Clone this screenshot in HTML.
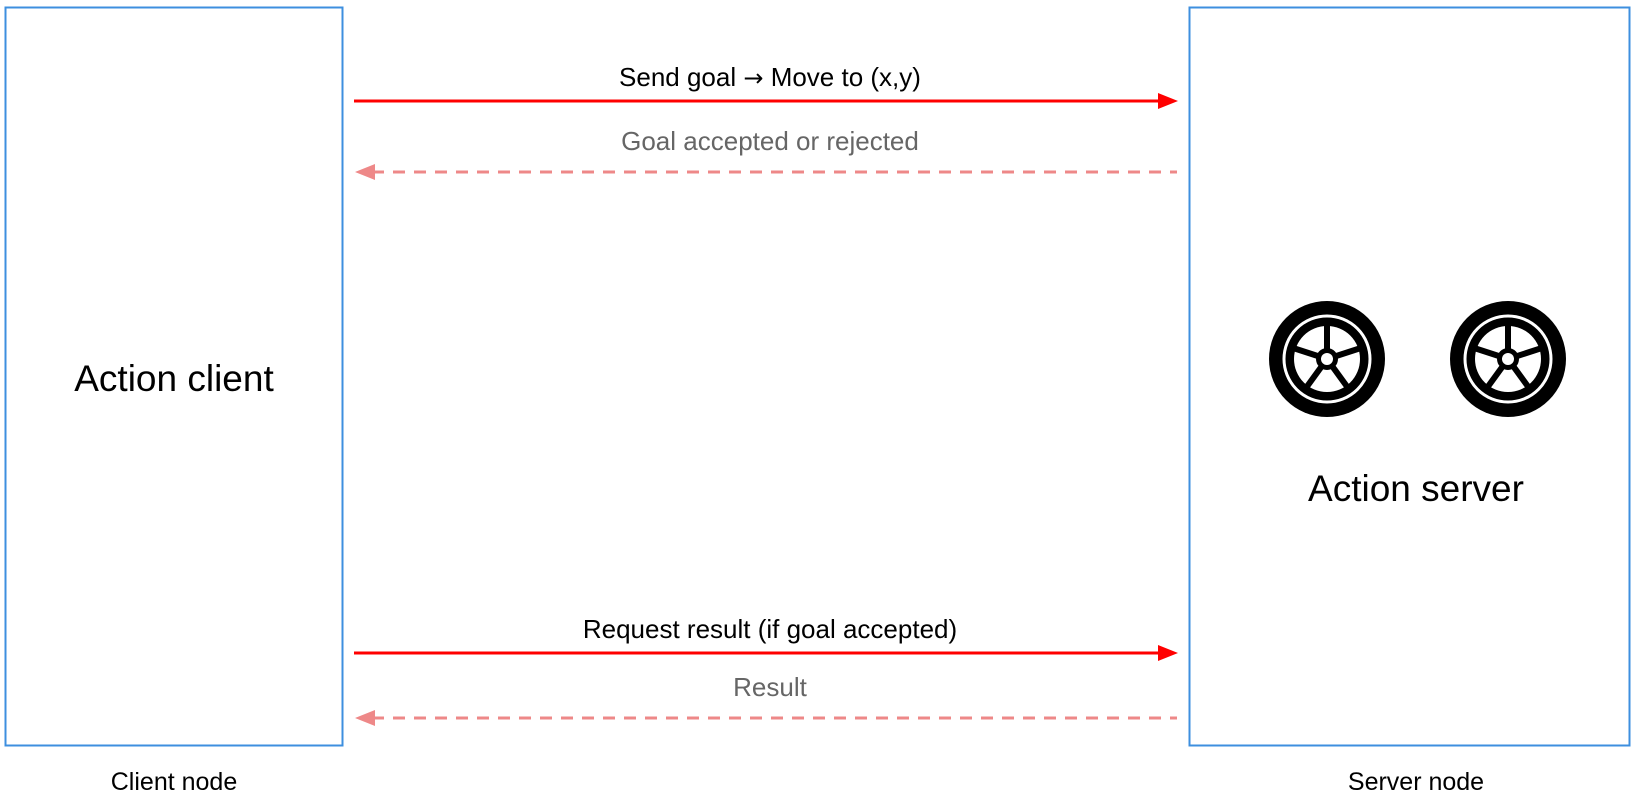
<!DOCTYPE html>
<html><head><meta charset="utf-8"><style>
html,body{margin:0;padding:0;background:#fff;width:1650px;height:800px;overflow:hidden}
</style></head><body>
<svg width="1650" height="800" viewBox="0 0 1650 800" xmlns="http://www.w3.org/2000/svg" font-family="Liberation Sans, Arial, sans-serif">
<defs>
<g id="wheel">
<circle r="58" fill="#000"/>
<circle r="43" fill="none" stroke="#fff" stroke-width="3"/>
<circle r="33" fill="#fff"/>
<g stroke="#000" stroke-width="6">
<line x1="0" y1="0" x2="0" y2="-34" transform="rotate(0)"/>
<line x1="0" y1="0" x2="0" y2="-34" transform="rotate(72)"/>
<line x1="0" y1="0" x2="0" y2="-34" transform="rotate(144)"/>
<line x1="0" y1="0" x2="0" y2="-34" transform="rotate(216)"/>
<line x1="0" y1="0" x2="0" y2="-34" transform="rotate(288)"/>
</g>
<circle r="11" fill="#000"/>
<circle r="6" fill="#fff"/>
</g>
</defs>
<rect x="5.5" y="7.5" width="337" height="738" fill="none" stroke="#3d8fdf" stroke-width="2"/>
<rect x="1189.5" y="7.5" width="440" height="738" fill="none" stroke="#3d8fdf" stroke-width="2"/>
<text x="174" y="391" font-size="37" text-anchor="middle" fill="#000">Action client</text>
<text x="1416" y="501" font-size="37" text-anchor="middle" fill="#000">Action server</text>
<text x="174" y="790" font-size="25" text-anchor="middle" fill="#000">Client node</text>
<text x="1416" y="790" font-size="25" text-anchor="middle" fill="#000">Server node</text>
<use href="#wheel" x="1327" y="359"/>
<use href="#wheel" x="1508" y="359"/>
<line x1="354" y1="101" x2="1160" y2="101" stroke="#f00" stroke-width="3"/>
<polygon points="1178,101 1158,93 1158,109" fill="#f00"/>
<text x="770" y="86" font-size="26" text-anchor="middle" fill="#000">Send goal <tspan font-family="DejaVu Sans, sans-serif" font-size="24">→</tspan> Move to (x,y)</text>
<line x1="372" y1="172" x2="1177" y2="172" stroke="#e88" stroke-width="3" stroke-dasharray="12,9"/>
<polygon points="355,172 375,164 375,180" fill="#e88"/>
<text x="770" y="150" font-size="26" text-anchor="middle" fill="#666">Goal accepted or rejected</text>
<line x1="354" y1="653" x2="1160" y2="653" stroke="#f00" stroke-width="3"/>
<polygon points="1178,653 1158,645 1158,661" fill="#f00"/>
<text x="770" y="638" font-size="26" text-anchor="middle" fill="#000">Request result (if goal accepted)</text>
<line x1="372" y1="718" x2="1177" y2="718" stroke="#e88" stroke-width="3" stroke-dasharray="12,9"/>
<polygon points="355,718 375,710 375,726" fill="#e88"/>
<text x="770" y="696" font-size="26" text-anchor="middle" fill="#666">Result</text>
</svg>
</body></html>
